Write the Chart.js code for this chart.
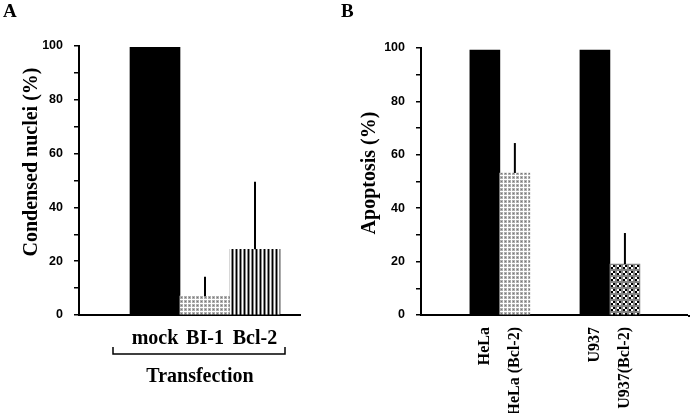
<!DOCTYPE html>
<html>
<head>
<meta charset="utf-8">
<script src="https://cdn.jsdelivr.net/npm/chart.js@4"></script>
<style>
  body { margin: 0; background: #fff; }
  #wrap { position: relative; width: 691px; height: 413px; }
  canvas { position: absolute; top: 0; }
  #chartA { left: 0; }
  #chartB { left: 340px; }
</style>
</head>
<body>
<div id="wrap">
  <canvas id="chartA" width="340" height="413"></canvas>
  <canvas id="chartB" width="351" height="413"></canvas>
</div>
<script>
// panel A data
const labelsA = ["mock", "BI-1", "Bcl-2"];
const valuesA = [99.5, 7, 24.4];
const errorsA = [0, 7.2, 25.1];
const posA = [1.52, 2.52, 3.52];   // bar centres on the x scale (1 unit = 1 bar)
const xMaxA = 4.42;

// panel B data
const labelsB = ["HeLa", "HeLa (Bcl-2)", "U937", "U937(Bcl-2)"];
const valuesB = [99.2, 53.2, 99.2, 19.1];
const errorsB = [0, 11.2, 0, 11.6];
const posB = [2.13, 3.13, 5.8, 6.8];
const xMaxB = 8.87;

const yTicks = [0, 20, 40, 60, 80, 100];

const SERIF = "'Liberation Serif', 'Times New Roman', serif";
const SANS = "'Liberation Sans', Arial, sans-serif";

function makePattern(w, h, draw) {
    const c = document.createElement("canvas");
    c.width = w; c.height = h;
    const g = c.getContext("2d");
    draw(g);
    return g.createPattern(c, "repeat");
}

const dotsLight = makePattern(4, 4, function(g) {
    g.fillStyle = "#fff"; g.fillRect(0, 0, 4, 4);
    g.fillStyle = "#b0b0b0"; g.fillRect(0, 0, 3, 3);
    g.fillStyle = "#777"; g.fillRect(1, 1, 1, 1);
});
const stripes = makePattern(4, 4, function(g) {
    g.fillStyle = "#8a8a8a"; g.fillRect(0, 0, 4, 4);
    g.fillStyle = "#000"; g.fillRect(0, 0, 1, 4);
    g.fillStyle = "#fff"; g.fillRect(2, 0, 1, 4);
});
const checker = makePattern(6, 6, function(g) {
    g.fillStyle = "#858585"; g.fillRect(0, 0, 6, 6);
    g.fillStyle = "#fff"; g.fillRect(1, 1, 2, 2); g.fillRect(3, 3, 2, 2);
    g.fillStyle = "#000"; g.fillRect(3, 1, 2, 2); g.fillRect(1, 3, 2, 2);
});

const colorsA = ["#000", dotsLight, stripes];
const colorsB = ["#000", dotsLight, "#000", checker];

// upper error bars only
const errorBars = {
    id: "errorBars",
    afterDatasetsDraw(chart, args, opts) {
        const ctx = chart.ctx;
        const y = chart.scales.y;
        const meta = chart.getDatasetMeta(0);
        ctx.save();
        ctx.strokeStyle = "#000";
        ctx.lineWidth = 2;
        meta.data.forEach((bar, i) => {
            const v = opts.values[i], e = opts.errors[i];
            if (!e) return;
            ctx.beginPath();
            ctx.moveTo(bar.x, y.getPixelForValue(v));
            ctx.lineTo(bar.x, y.getPixelForValue(v + e));
            ctx.stroke();
        });
        ctx.restore();
    }
};

// panel letter, axis title and extra marks
const decorations = {
    id: "decorations",
    afterDraw(chart, args, opts) {
        const ctx = chart.ctx;
        ctx.save();
        ctx.fillStyle = "#000";
        ctx.font = "bold 19px " + SERIF;
        ctx.textAlign = "left";
        ctx.textBaseline = "top";
        ctx.fillText(opts.letter, opts.letterX, 3);

        ctx.save();
        ctx.translate(opts.titleX, opts.titleY);
        ctx.rotate(-Math.PI / 2);
        ctx.font = "bold 20px " + SERIF;
        ctx.textAlign = "center";
        ctx.textBaseline = "middle";
        ctx.fillText(opts.title, 0, 0);
        ctx.restore();

        if (opts.extra) opts.extra(chart, ctx);
        ctx.restore();
    }
};

function yScale(width) {
    return {
        min: 0, max: 100,
        afterFit(s) { s.width = width; },
        ticks: {
            stepSize: 5,
            padding: 11,
            color: "#000",
            font: { family: SANS, size: 12.5, weight: "bold" },
            callback: v => (yTicks.includes(v) ? String(v) : "")
        },
        grid: { drawOnChartArea: false, tickLength: 5, color: "#000", lineWidth: 1.5 },
        border: { color: "#000", width: 2 }
    };
}

new Chart(document.getElementById("chartA"), {
    type: "bar",
    data: {
        datasets: [{
            data: posA.map((x, i) => ({ x: x, y: valuesA[i] })),
            backgroundColor: colorsA,
            barThickness: 50,
            borderWidth: 0
        }]
    },
    options: {
        responsive: false,
        animation: false,
        layout: { padding: { left: 0, top: 46, right: 40, bottom: 24 } },
        plugins: {
            legend: { display: false },
            tooltip: { enabled: false },
            errorBars: { values: valuesA, errors: errorsA },
            decorations: {
                letter: "A", letterX: 3,
                title: "Condensed nuclei (%)", titleX: 32, titleY: 162,
                extra(chart, ctx) {
                    // bracket and "Transfection"
                    ctx.strokeStyle = "#000";
                    ctx.lineWidth = 1.5;
                    ctx.beginPath();
                    ctx.moveTo(113, 347);
                    ctx.lineTo(113, 354);
                    ctx.lineTo(285, 354);
                    ctx.lineTo(285, 347);
                    ctx.stroke();
                    ctx.font = "bold 20px " + SERIF;
                    ctx.textAlign = "center";
                    ctx.textBaseline = "middle";
                    ctx.fillText("Transfection", 200, 377);
                }
            }
        },
        scales: {
            x: {
                type: "linear",
                offset: false,
                min: 0, max: xMaxA,
                afterFit(s) { s.height = 74; },
                afterBuildTicks(s) { s.ticks = posA.map(v => ({ value: v })); },
                ticks: {
                    autoSkip: false,
                    maxRotation: 0,
                    padding: 4,
                    color: "#000",
                    font: { family: SERIF, size: 20, weight: "bold" },
                    callback: (v, i) => labelsA[i]
                },
                grid: { display: false },
                border: { color: "#000", width: 2 }
            },
            y: yScale(79)
        }
    },
    plugins: [errorBars, decorations]
});

new Chart(document.getElementById("chartB"), {
    type: "bar",
    data: {
        datasets: [{
            data: posB.map((x, i) => ({ x: x, y: valuesB[i] })),
            backgroundColor: colorsB,
            barThickness: 30,
            borderWidth: 0
        }]
    },
    options: {
        responsive: false,
        animation: false,
        layout: { padding: { left: 0, top: 48, right: 4, bottom: 0 } },
        plugins: {
            legend: { display: false },
            tooltip: { enabled: false },
            errorBars: { values: valuesB, errors: errorsB },
            decorations: {
                letter: "B", letterX: 1,
                title: "Apoptosis (%)", titleX: 30, titleY: 173,
                extra(chart, ctx) {
                    ctx.fillRect(348, 315, 2, 2);
                }
            }
        },
        scales: {
            x: {
                type: "linear",
                offset: false,
                min: 0, max: xMaxB,
                afterFit(s) { s.height = 98; },
                afterBuildTicks(s) { s.ticks = posB.map(v => ({ value: v })); },
                ticks: {
                    autoSkip: false,
                    minRotation: 90,
                    maxRotation: 90,
                    padding: 4,
                    color: "#000",
                    font: { family: SERIF, size: 16, weight: "bold" },
                    callback: (v, i) => labelsB[i]
                },
                grid: { display: false },
                border: { color: "#000", width: 2 }
            },
            y: yScale(81)
        }
    },
    plugins: [errorBars, decorations]
});
</script>
</body>
</html>
